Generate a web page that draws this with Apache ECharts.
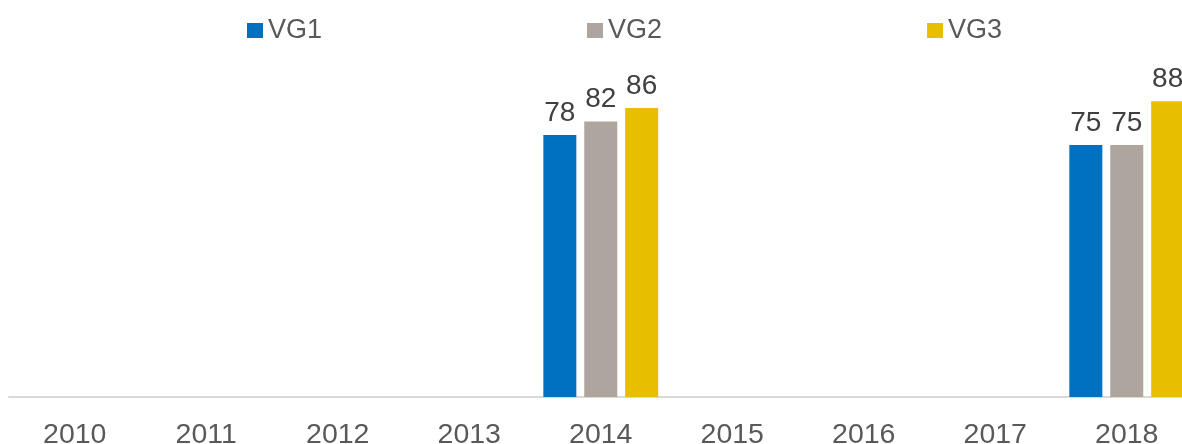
<!DOCTYPE html>
<html>
<head>
<meta charset="utf-8">
<script src="https://cdn.jsdelivr.net/npm/echarts@6/dist/echarts.min.js"></script>
<style>
  html, body { margin: 0; padding: 0; background: #fff; }
  #main { width: 1182px; height: 444px; }
</style>
</head>
<body>
<div id="main"></div>
<script>
const years = ['2010', '2011', '2012', '2013', '2014', '2015', '2016', '2017', '2018'];
const vg1 = [null, null, null, null, 78, null, null, null, 75];
const vg2 = [null, null, null, null, 82, null, null, null, 75];
const vg3 = [null, null, null, null, 86, null, null, null, 88];

const font = 'Liberation Sans, Arial, sans-serif';
const barLabel = {
    show: true,
    position: 'top',
    distance: 8,
    color: '#404040',
    fontSize: 28,
    fontFamily: font
};

const makeSeries = (name, data, color) => ({
    name: name,
    type: 'bar',
    data: data,
    barWidth: 33,
    barGap: '24%',
    itemStyle: { color: color },
    label: barLabel
});

const myChart = echarts.init(document.getElementById('main'));
const option = {
    animation: false,
    legend: {
        top: 12,
        left: 242,
        icon: 'rect',
        itemWidth: 16,
        itemHeight: 15,
        itemGap: 265,
        textStyle: { color: '#595959', fontSize: 27, fontFamily: font },
        data: ['VG1', 'VG2', 'VG3']
    },
    grid: {
        left: 9,
        right: -10.5,
        top: 61,
        bottom: 47,
        containLabel: false,
        outerBoundsMode: 'none'
    },
    xAxis: {
        type: 'category',
        data: years,
        axisLine: { lineStyle: { color: '#d9d9d9', width: 2 } },
        axisTick: { show: false },
        axisLabel: { color: '#595959', fontSize: 28.5, fontFamily: font, margin: 24 }
    },
    yAxis: {
        type: 'value',
        min: 0,
        max: 100,
        show: false,
        splitLine: { show: false }
    },
    series: [
        makeSeries('VG1', vg1, '#0070C0'),
        makeSeries('VG2', vg2, '#ADA59E'),
        makeSeries('VG3', vg3, '#E8BE00')
    ]
};
myChart.setOption(option);
</script>
</body>
</html>
